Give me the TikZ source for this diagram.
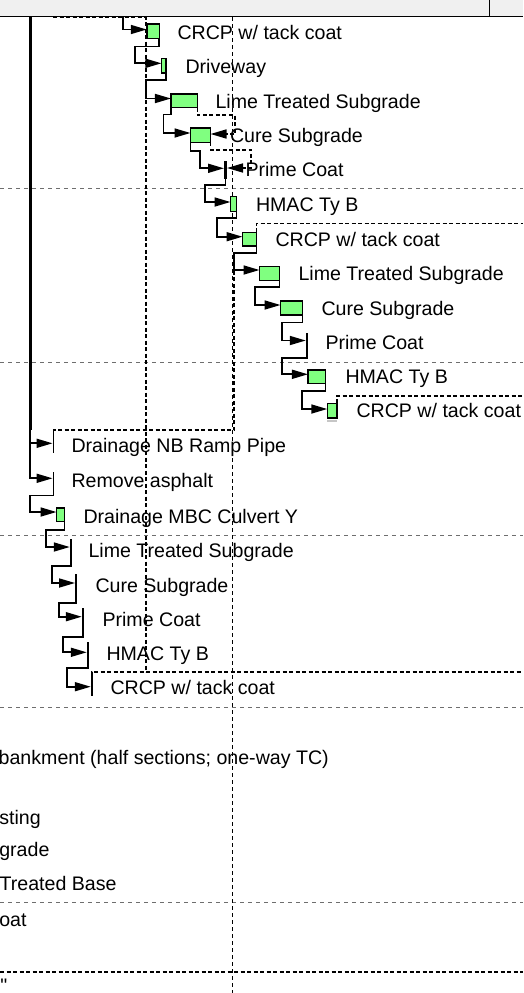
\documentclass[tikz,border=0pt]{standalone}
\usepackage{fontspec}
\setmainfont{Liberation Sans}
\usetikzlibrary{arrows.meta}
\definecolor{barfill}{RGB}{128,255,128}
\definecolor{hdr}{RGB}{240,240,240}
\definecolor{gridgray}{RGB}{110,110,110}
\begin{document}
\begin{tikzpicture}[x=1pt,y=-1pt,
  bar/.style={draw=black, line width=1.5pt, fill=barfill, inner sep=0pt, outer sep=0pt},
  ms/.style={fill=black, draw=none, inner sep=0pt, outer sep=0pt, minimum width=1.9pt, minimum height=20pt},
  link/.style={line width=1.7pt, -{Triangle[length=16pt,width=9pt]}},
  linkd/.style={line width=1.6pt, dash pattern=on 4pt off 2.5pt, -{Triangle[length=16pt,width=9pt]}},
  crit/.style={line width=1.6pt, dash pattern=on 4pt off 2.5pt},
  grid/.style={gridgray, line width=0.9pt, dash pattern=on 4pt off 4pt},
  today/.style={black, line width=0.9pt, dash pattern=on 4pt off 3pt},
  lbl/.style={anchor=base west, inner sep=0pt, outer sep=0pt, font=\fontsize{19.6}{22}\selectfont},
]
\useasboundingbox (0,0) rectangle (523,993);
\clip (0,0) rectangle (523,993);

% header
\fill[hdr] (0,0) rectangle (523,16);
\draw[line width=1.8pt] (0,16.5) -- (523,16.5);
\draw[line width=0.9pt] (489.5,0) -- (489.5,16);

% grid
\foreach \yy in {188.5,362,535,707,902} \draw[grid] (0,\yy) -- (523,\yy);
\draw[crit] (0,972) -- (523,972);
% today line
\draw[today] (232,17) -- (232,993);

% bars
\node[bar, minimum width=12.5pt, minimum height=14.5pt] (b1) at (153,31.2) {};
\node[bar, minimum width=4.5pt, minimum height=14.5pt] (b2) at (163.7,65.8) {};
\node[bar, minimum width=26.5pt, minimum height=13.5pt] (b3) at (184.2,100.8) {};
\node[bar, minimum width=20pt, minimum height=14.5pt] (b4) at (200.5,135) {};
\node[ms, minimum width=3pt, minimum height=18pt] (m5) at (225.5,170) {};
\node[bar, minimum width=6pt, minimum height=15pt] (b6) at (233.5,204) {};
\node[bar, minimum width=14pt, minimum height=13.5pt] (b7) at (249.5,239) {};
\node[bar, minimum width=20pt, minimum height=14pt] (b8) at (269.5,273.5) {};
\node[bar, minimum width=22pt, minimum height=14pt] (b9) at (291.5,308) {};
\node[ms, minimum height=17pt] (m10) at (306.7,341.5) {};
\node[bar, minimum width=17.5pt, minimum height=13.5pt] (b11) at (316.7,376.7) {};
\node[bar, minimum width=9.5pt, minimum height=14.5pt] (b12) at (332,410.5) {};
\node[ms, minimum height=21pt] (m13) at (53.5,442.5) {};
\node[ms, minimum height=19pt] (m14) at (53.5,481) {};
\node[bar, minimum width=8pt, minimum height=13.5pt] (b15) at (60.5,514.5) {};
\node[ms] (m16) at (70.7,549) {};
\node[ms] (m17) at (76,584) {};
\node[ms] (m18) at (82.7,618) {};
\node[ms] (m19) at (87.7,652) {};
\node[ms] (m20) at (91.7,686) {};
\fill[gray!45] (326.7,419.6) rectangle (336.7,422);

% free ends
\coordinate (topA) at (122.7,17);
\coordinate (thickTop) at (30,17);
\coordinate (thickBot) at (30,430);

% bold dashed lines
\draw[crit] (53,17.5) -- (146,17.5) -- (146,672);
\draw[crit] (b7.north east) |- (523,223.3);
\draw[crit] (b12.north east) |- (523,396);
\draw[crit] (m20.north) |- (523,672);
\draw[crit] (m13.north) |- (234,430) -- (234,253);

% thick line
\draw[line width=3pt] (thickTop) -- (thickBot);

% links
\draw[link] (topA) |- (b1.west |- 0,29.5);
\draw[link] (b1.south east) -- ++(0,8) -| (135,63.3) -- (b2.west |- 0,63.3);
\draw[link] (b2.south east) -- ++(0,7) -| (146,98.5) -- (b3.west |- 0,98.5);
\draw[link] (b3.south west) -- ++(0,7) -| (163.5,133) -- (b4.west |- 0,133);
\draw[linkd] (b3.south east) -- ++(0,7.5) -| (235,134) -- (b4.east |- 0,134);
\draw[link] (b4.south west) -- ++(0,8.5) -| (200,168.3) -- (m5.west |- 0,168.3);
\draw[linkd] (b4.south east) -- ++(0,7.5) -| (251,168) -- (m5.east |- 0,168);
\draw[link] (m5.south) -- ++(0,6) -| (205,202) -- (b6.west |- 0,202);
\draw[link] (b6.south east) -- ++(0,6.5) -| (216.7,236.7) -- (b7.west |- 0,236.7);
\draw[link] (b7.south east) -- ++(0,7.5) -| (234.3,270) -- (b8.west |- 0,270);
\draw[link] (b8.south east) -- ++(0,6.8) -| (255,305) -- (b9.west |- 0,305);
\draw[link] (b9.south east) -- ++(0,7.6) -| (281.7,340.5) -- (m10.west |- 0,340.5);
\draw[link] (m10.south) -- ++(0,8.3) -| (281.7,374.3) -- (b11.west |- 0,374.3);
\draw[link] (b11.south east) -- ++(0,7.8) -| (301.7,409) -- (b12.west |- 0,409);
\draw[link] (thickBot) |- (m13.west |- 0,443.3);
\draw[link] (thickBot) |- (m14.west |- 0,478.3);
\draw[link] (m14.south) -- ++(0,5) -| (30,512) -- (b15.west |- 0,512);
\draw[link] (b15.south east) -- ++(0,8.5) -| (46,547) -- (m16.west |- 0,547);
\draw[link] (m16.south) -- ++(0,7) -| (52,583) -- (m17.west |- 0,583);
\draw[link] (m17.south) -- ++(0,8.7) -| (59.3,616.7) -- (m18.west |- 0,616.7);
\draw[link] (m18.south) -- ++(0,8.7) -| (63.3,652.3) -- (m19.west |- 0,652.3);
\draw[link] (m19.south) -- ++(0,6) -| (66.7,686.7) -- (m20.west |- 0,686.7);

% labels
\node[lbl] (t1) at (177.5,39.2) {CRCP w/ tack coat};
\node[lbl] (t2) at (185.5,73.7) {Driveway};
\node[lbl] (t3) at (215.5,108.2) {Lime Treated Subgrade};
\node[lbl] (t4) at (230,142.5) {Cure Subgrade};
\node[lbl] (t5) at (245.5,176.7) {Prime Coat};
\node[lbl] (t6) at (256,211.7) {HMAC Ty B};
\node[lbl] (t7) at (275.5,246.2) {CRCP w/ tack coat};
\node[lbl] (t8) at (298.5,280.5) {Lime Treated Subgrade};
\node[lbl] (t9) at (321.5,315) {Cure Subgrade};
\node[lbl] (t10) at (325.5,349.2) {Prime Coat};
\node[lbl] (t11) at (345.5,383.9) {HMAC Ty B};
\node[lbl] (t12) at (356.5,417.7) {CRCP w/ tack coat};
\node[lbl] (t13) at (71.5,452.2) {Drainage NB Ramp Pipe};
\node[lbl] (t14) at (71.5,487.2) {Remove asphalt};
\node[lbl] (t15) at (83.5,523.2) {Drainage MBC Culvert Y};
\node[lbl] (t16) at (88.5,557.2) {Lime Treated Subgrade};
\node[lbl] (t17) at (95.5,592.2) {Cure Subgrade};
\node[lbl] (t18) at (102.5,626.2) {Prime Coat};
\node[lbl] (t19) at (106.5,660.2) {HMAC Ty B};
\node[lbl] (t20) at (110.5,694.2) {CRCP w/ tack coat};
\node[lbl] (t21) at (-1.3,764) {bankment (half sections; one-way TC)};
\node[lbl] (t22) at (-0.6,824) {sting};
\node[lbl] (t23) at (-0.7,856) {grade};
\node[lbl] (t24) at (-0.4,890.7) {Treated Base};
\node[lbl] (t25) at (-0.7,926) {oat};
\node[lbl] (t26) at (0.5,992.5) {\XeTeXglyph\XeTeXcharglyph"22 };
\end{tikzpicture}
\end{document}
